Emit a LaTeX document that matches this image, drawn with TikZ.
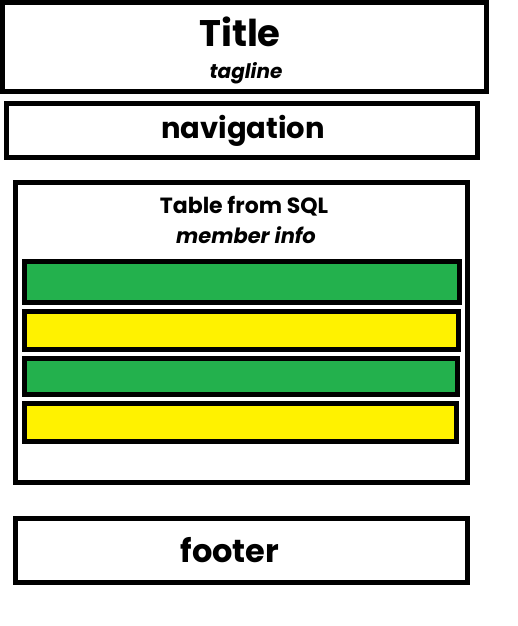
\documentclass[tikz,border=0pt]{standalone}
\usepackage{fontspec}
\setmainfont{Poppins}
\definecolor{rowgreen}{RGB}{35,177,77}
\definecolor{rowyellow}{RGB}{255,242,0}
\tikzstyle{panel}=[draw, line width=5, fill=white, inner sep=0, outer sep=0]
\tikzstyle{greenrow}=[panel, fill=rowgreen]
\tikzstyle{yellowrow}=[panel, fill=rowyellow]
\tikzstyle{label}=[anchor=base, inner sep=0, font=\bfseries]
\begin{document}
\begin{tikzpicture}[x=1pt, y=-1pt]
  \useasboundingbox (0,0) rectangle (518,626);
  % page blocks
  \node[panel, minimum width=484, minimum height=89] (title) at (244.5,47) {};
  \node[panel, minimum width=471, minimum height=54] (nav) at (242,130.5) {};
  \node[panel, line width=4.5, minimum width=452, minimum height=300] (table) at (241.5,332.5) {};
  \node[panel, minimum width=452, minimum height=64] (footer) at (241.5,550.5) {};

  % table rows
  \node[greenrow, minimum width=435, minimum height=41] (row1) at (242,282) {};
  \node[yellowrow, minimum width=434, minimum height=38] (row2) at (241.5,330.5) {};
  \node[greenrow, minimum width=433, minimum height=36] (row3) at (241,376.5) {};
  \node[yellowrow, minimum width=432, minimum height=38] (row4) at (240.5,422.5) {};

  \node[label, font=\bfseries\fontsize{37}{37}\selectfont] (titletext) at (240,47) {Title};
  \node[label, font=\bfseries\itshape\fontsize{20}{20}\selectfont] (tagline) at (246,78) {tagline};
  \node[label, font=\bfseries\fontsize{29}{29}\selectfont] (navtext) at (243,138) {navigation};
  \node[label, font=\bfseries\fontsize{22}{22}\selectfont] (tabletext) at (244,213) {Table from SQL};
  \node[label, font=\bfseries\itshape\fontsize{21}{21}\selectfont] (member) at (246,243) {member info};
  \node[label, font=\bfseries\fontsize{32}{32}\selectfont] (footertext) at (230,562) {footer};
\end{tikzpicture}
\end{document}
